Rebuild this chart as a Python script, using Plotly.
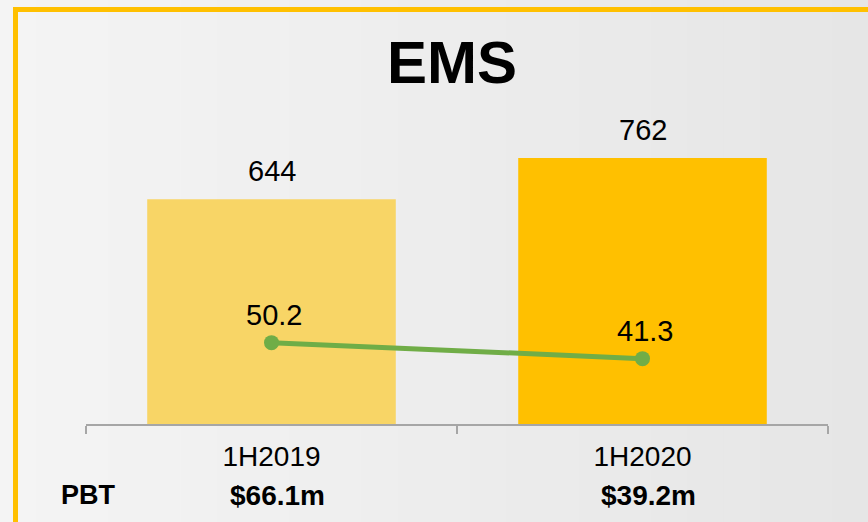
import plotly.graph_objects as go

# ---- data ----
categories = ["1H2019", "1H2020"]
revenue = [644, 762]
margin_line = [50.2, 41.3]
pbt_labels = ["$66.1m", "$39.2m"]
row_label = "PBT"
title_text = "EMS"

bar_colors = ["#F8D566", "#FFC000"]
line_color = "#70AD47"
FONT = "Liberation Sans, Arial, sans-serif"

W, H = 868, 522
ML, MR, MT, MB = 86, 40, 100, 98
plot_w = W - ML - MR

fig = go.Figure()

fig.add_trace(go.Bar(
    x=categories, y=revenue,
    marker=dict(color=bar_colors, line=dict(width=0)),
    yaxis="y", showlegend=False, hoverinfo="skip",
))
fig.add_trace(go.Scatter(
    x=categories, y=margin_line, yaxis="y2", mode="lines+markers",
    line=dict(color=line_color, width=5),
    marker=dict(color=line_color, size=15),
    showlegend=False, hoverinfo="skip",
))

annotations = []
# bar value labels
for c, v in zip(categories, revenue):
    annotations.append(dict(x=c, y=v, xref="x", yref="y", text=str(v),
                            showarrow=False, yanchor="middle", yshift=28,
                            font=dict(family=FONT, size=29, color="#000000")))
# line labels
for c, v in zip(categories, margin_line):
    annotations.append(dict(x=c, y=v, xref="x", yref="y2", text=f"{v:.1f}",
                            showarrow=False, yanchor="middle", yshift=28, xshift=2,
                            font=dict(family=FONT, size=29, color="#000000")))
# PBT row
annotations.append(dict(x=-0.5, y=0, xref="x", yref="paper", text=f"<b>{row_label}</b>",
                        showarrow=False, xanchor="center", yanchor="middle",
                        yshift=-71, xshift=2,
                        font=dict(family=FONT, size=27, color="#000000")))
for c, t in zip(categories, pbt_labels):
    annotations.append(dict(x=c, y=0, xref="x", yref="paper", text=f"<b>{t}</b>",
                            showarrow=False, yanchor="middle", yshift=-71, xshift=6,
                            font=dict(family=FONT, size=28, color="#000000")))
# title
annotations.append(dict(x=(452 - ML) / plot_w, y=1, xref="paper", yref="paper",
                        text=f"<b>{title_text}</b>", showarrow=False,
                        yanchor="middle", yshift=38,
                        font=dict(family=FONT, size=60, color="#000000")))

# background gradient bands + frame
shapes = []
n = 24
c0, c1 = 0xF4, 0xE6
for i in range(n):
    g = round(c0 + (c1 - c0) * i / (n - 1))
    col = f"rgb({g},{g},{g})"
    x0 = (i * W / n - ML) / plot_w
    x1 = ((i + 1) * W / n - ML) / plot_w + 0.002
    shapes.append(dict(type="rect", xref="paper", yref="paper",
                       x0=x0, x1=x1, y0=-2, y1=2, fillcolor=col,
                       line=dict(width=0), layer="below"))
ph = H - MT - MB
def px_x(p):
    return (p - ML) / plot_w
def px_y(p):
    return (H - MB - p) / ph
shapes.append(dict(type="line", xref="paper", yref="paper",
                   x0=px_x(15.5), x1=px_x(15.5), y0=px_y(7), y1=px_y(540),
                   line=dict(color="#FFC000", width=5), layer="above"))
shapes.append(dict(type="line", xref="paper", yref="paper",
                   x0=px_x(13), x1=px_x(900), y0=px_y(9.5), y1=px_y(9.5),
                   line=dict(color="#FFC000", width=5), layer="above"))

fig.update_layout(
    width=W, height=H,
    margin=dict(l=ML, r=MR, t=MT, b=MB),
    paper_bgcolor="#EEEEEE",
    plot_bgcolor="rgba(0,0,0,0)",
    bargap=0.33,
    font=dict(family=FONT, color="#000000"),
    xaxis=dict(
        type="category", range=[-0.5, 1.5], autorange=False,
        showline=True, linecolor="#A6A6A6", linewidth=2,
        ticks="outside", tickson="boundaries", ticklen=8, tickwidth=2,
        tickcolor="#A6A6A6", showgrid=False, zeroline=False,
        tickfont=dict(family=FONT, size=28, color="#000000"),
        ticklabelstandoff=6,
    ),
    yaxis=dict(range=[0, 928], visible=False, showgrid=False, zeroline=False),
    yaxis2=dict(range=[5, 185], overlaying="y", side="right", visible=False,
                showgrid=False, zeroline=False),
    annotations=annotations,
    shapes=shapes,
)

fig.write_html("out.html",
               config={"displayModeBar": False},
               post_script="document.body.style.margin='0px';document.body.style.overflow='hidden';")
